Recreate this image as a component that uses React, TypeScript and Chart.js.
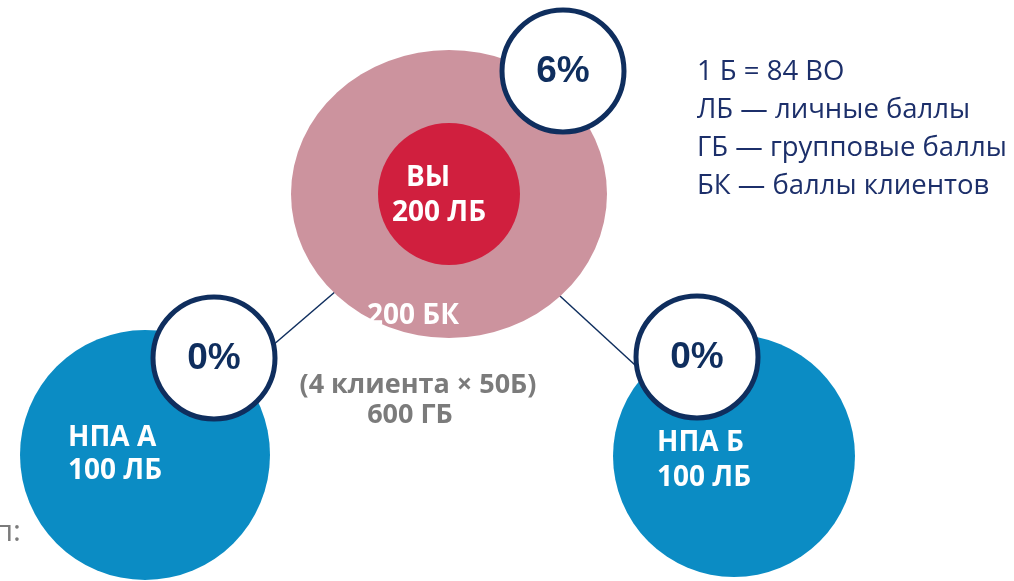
import React, { useEffect, useRef } from "react";
import { Chart, registerables } from "chart.js";

Chart.register(...registerables);

// ---- data ----
const memberNames = ["ВЫ", "НПА А", "НПА Б"];
const personalPoints = [200, 100, 100]; // ЛБ
const bonusPercent = [6, 0, 0];
const clientPoints = 200; // БК
const clientCount = 4;
const pointsPerClient = 50;
const groupPoints = 600; // ГБ
const legendLines = [
  "1 Б = 84 ВО",
  "ЛБ — личные баллы",
  "ГБ — групповые баллы",
  "БК — баллы клиентов",
];
const cutText = "п:";

// ---- layout (diagram geometry, pixels) ----
const nodeX = [449, 145, 734];
const nodeY = [194, 455, 456];
const outerR = [150, 125, 121];
const innerR = 71;
const badgeX = [563, 214, 697];
const badgeY = [71, 358, 357];
const badgeR = 61;

const PINK = "#cc939e";
const RED = "#d01f3e";
const BLUE = "#0b8cc4";
const NAVY = "#0f2e5e";
const GREY = "#7b7b7b";

function makeEllipse(w: number, h: number, color: string) {
  const c = document.createElement("canvas");
  c.width = w;
  c.height = h;
  const ctx = c.getContext("2d")!;
  ctx.fillStyle = color;
  ctx.beginPath();
  ctx.ellipse(w / 2, h / 2, w / 2, h / 2, 0, 0, Math.PI * 2);
  ctx.fill();
  return c;
}

export default function App() {
  const ref = useRef<HTMLCanvasElement>(null);
  useEffect(() => {
    if (!ref.current) return;
    const ellipse = makeEllipse(316, 288, PINK);

    const labelPlugin = {
      id: "labels",
      afterDatasetsDraw(chart: any) {
        const ctx = chart.ctx;
        const outer = chart.getDatasetMeta(2).data;
        const badges = chart.getDatasetMeta(4).data;
        ctx.save();
        ctx.textBaseline = "middle";
        // white labels
        ctx.fillStyle = "#ffffff";
        ctx.font = 'bold 28px "Open Sans"';
        ctx.textAlign = "center";
        ctx.fillText(memberNames[0], outer[0].x - 21, outer[0].y - 16);
        ctx.fillText(`${personalPoints[0]} ЛБ`, outer[0].x - 10, outer[0].y + 19);
        ctx.fillText(`${clientPoints} БК`, outer[0].x - 36, outer[0].y + 122);
        ctx.textAlign = "left";
        ctx.fillText(memberNames[1], outer[1].x - 77, outer[1].y - 17);
        ctx.fillText(`${personalPoints[1]} ЛБ`, outer[1].x - 77, outer[1].y + 16);
        ctx.fillText(memberNames[2], outer[2].x - 77, outer[2].y - 13);
        ctx.fillText(`${personalPoints[2]} ЛБ`, outer[2].x - 77, outer[2].y + 22);
        // percents
        ctx.fillStyle = NAVY;
        ctx.textAlign = "center";
        ctx.font = 'bold 37px "Liberation Sans"';
        badges.forEach((b: any, i: number) => {
          ctx.fillText(`${bonusPercent[i]}%`, b.x, b.y + 1);
        });
        // grey group text
        ctx.fillStyle = GREY;
        ctx.font = 'bold 27px "Open Sans"';
        ctx.fillText(`(${clientCount} клиента × ${pointsPerClient}Б)`, outer[0].x - 31, outer[0].y + 191);
        ctx.fillText(`${groupPoints} ГБ`, outer[0].x - 39, outer[0].y + 221);
        // legend
        ctx.fillStyle = "#1c2f6a";
        ctx.font = '27.5px "Open Sans"';
        ctx.textAlign = "left";
        legendLines.forEach((t, i) => ctx.fillText(t, 697, 72 + i * 38));
        // cut-off text
        ctx.fillStyle = GREY;
        ctx.font = '30px "Open Sans"';
        ctx.textAlign = "right";
        ctx.fillText(cutText, 21, 532);
        ctx.restore();
      },
    };

    const chart = new Chart(ref.current, {
      type: "bubble",
      data: {
        datasets: [
          {
            type: "line",
            data: [
              { x: nodeX[0], y: nodeY[0] },
              { x: nodeX[1], y: nodeY[1] },
            ],
            borderColor: NAVY,
            borderWidth: 1.5,
            pointRadius: 0,
            order: 10,
          } as any,
          {
            type: "line",
            data: [
              { x: nodeX[0], y: nodeY[0] },
              { x: nodeX[2], y: nodeY[2] },
            ],
            borderColor: NAVY,
            borderWidth: 1.5,
            pointRadius: 0,
            order: 10,
          } as any,
          {
            data: memberNames.map((_, i) => ({ x: nodeX[i], y: nodeY[i], r: outerR[i] })),
            backgroundColor: [PINK, BLUE, BLUE],
            borderWidth: 0,
            pointStyle: [ellipse, "circle", "circle"] as any,
            order: 5,
          },
          {
            data: [{ x: nodeX[0], y: nodeY[0], r: innerR }],
            backgroundColor: RED,
            borderWidth: 0,
            order: 4,
          },
          {
            data: bonusPercent.map((_, i) => ({ x: badgeX[i], y: badgeY[i], r: badgeR })),
            backgroundColor: "#ffffff",
            borderColor: NAVY,
            borderWidth: 5,
            order: 3,
          },
        ],
      },
      options: {
        animation: false,
        responsive: false,
        maintainAspectRatio: false,
        layout: { padding: 0, autoPadding: false } as any,
        events: [],
        clip: false as any,
        scales: {
          x: { type: "linear", min: 0, max: 1014, display: false },
          y: { type: "linear", min: 0, max: 581, reverse: true, display: false },
        },
        plugins: { legend: { display: false }, tooltip: { enabled: false } },
      },
      plugins: [labelPlugin],
    });
    return () => chart.destroy();
  }, []);

  return (
    <div style={{ position: "fixed", left: 0, top: 0, width: 1014, height: 581, background: "#fff" }}>
      <canvas ref={ref} width={1014} height={581} style={{ display: "block" }} />
    </div>
  );
}
